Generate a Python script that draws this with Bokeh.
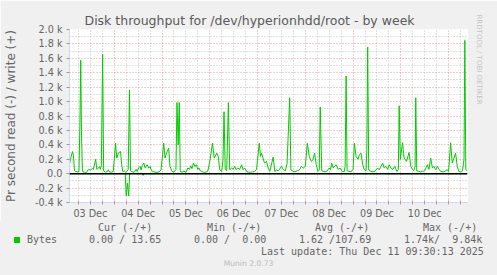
import numpy as np
from bokeh.plotting import figure
from bokeh.layouts import column
from bokeh.models import (Range1d, FixedTicker, Grid, Span, Title, Div)
from bokeh.embed import file_html
from bokeh.resources import INLINE

# ---------------- data ----------------
# sample index = 30-minute step since start of the graph (Dec 3 01:30)
write_idx = [0, 1, 1.5, 3, 4, 5, 6, 8, 9.5, 10.5, 11.3, 12, 13, 15, 17, 19, 21, 23, 24, 26.3,
             27.5, 29, 30, 31, 32, 33.3, 34.3, 36, 38, 39, 40, 42, 44, 46.3, 47.5, 49, 51.3, 52.5,
             53.5, 55, 56.5, 57.5, 59, 60.3, 61.3, 63, 65, 67, 68, 69.5, 71, 72, 73, 74.7, 76, 78,
             79.7, 81, 82.5, 84, 86, 88, 90, 92, 94.7, 96, 97.5, 99.7, 101, 103, 105, 107, 108,
             109.2, 110.3, 111.3, 113, 115, 117, 119, 120.5, 122, 123, 124.7, 126, 127.5, 129, 130,
             131.5, 133, 135, 137, 139, 141.3, 143.7, 145.5, 148, 149.5, 151, 153, 154.3, 155.3,
             156.5, 158, 159.7, 161, 163, 164.5, 166, 167.5, 169, 171, 173, 174.5, 176, 178, 180,
             182, 184, 186, 188, 190.7, 192, 193, 194.5, 196, 198, 199.7, 201.3, 204.7, 206.3, 208,
             210, 213, 215, 217, 218.7, 219.7, 221.3, 222.5, 224.7, 226.5, 229, 231.3, 233, 235,
             237, 239, 241, 243, 244.7, 246.3, 248, 249.7, 251, 252, 253.5, 255, 257, 259, 261,
             262.3, 263.5, 265, 266.3, 268, 270, 272, 274, 276, 277, 278, 279, 281, 283, 285,
             286.3, 288, 290, 291.3, 293, 294.7, 296.3, 298, 298.8, 299.7, 300.7, 303, 305, 307,
             309.7, 311.3, 313, 314.7, 316.3, 318, 319.7, 321.3, 323, 325, 327, 329, 330.5, 331.3,
             332.5, 334.7, 336.3, 338.7, 341.3, 343, 344.7, 346, 347.3, 348, 349, 351, 353, 355,
             357, 359.7, 361.3, 363, 364.7, 366.3, 368, 369.7, 371.3, 373, 376, 378, 379.7, 381,
             383, 384.7, 386, 388, 389.7, 391.3, 393, 395, 396.5, 397.3, 398.3, 400]
write_bps = [130, 200, 230, 307, 250, 40, 30, 25, 30, 700, 1574, 600, 30, 20, 15, 60, 50, 70, 60, 200,
             60, 75, 100, 60, 110, 1657, 40, 20, 30, 55, 25, 20, 30, 422, 216, 285, 307, 124,
             30, 40, 20, 30, 60, 1162, 40, 25, 20, 60, 30, 80, 101, 50, 110, 147, 80, 124,
             78, 100, 40, 30, 20, 18, 25, 50, 422, 216, 285, 353, 101, 32, 20, 60, 987,
             400, 987, 30, 20, 35, 18, 80, 60, 110, 70, 147, 100, 124, 60, 80,
             40, 30, 18, 20, 35, 193, 422, 216, 285, 239, 55, 30, 200, 859,
             60, 40, 987, 55, 78, 60, 101, 55, 78, 60, 124, 55, 80, 30, 20,
             18, 25, 30, 60, 422, 240, 285, 216, 147, 170, 78, 32, 230, 32, 50,
             40, 101, 55, 40, 147, 500, 1052, 55, 32, 25, 40, 55, 101, 78,
             101, 422, 239, 170, 193, 285, 124, 32, 50, 924, 40, 32, 25, 40, 78,
             55, 147, 78, 101, 124, 60, 78, 32, 25, 100, 1354, 40, 32, 25, 60,
             422, 239, 200, 262, 285, 124, 55, 40, 300, 1757, 50, 32, 25, 35,
             78, 55, 101, 147, 78, 101, 60, 124, 78, 60, 101, 32, 60, 942,
             200, 431, 216, 170, 294, 101, 55, 40, 100, 1052, 40, 32, 25, 32,
             40, 124, 60, 216, 78, 101, 55, 101, 60, 32, 25, 40, 55, 30,
             431, 147, 200, 285, 101, 32, 25, 40, 200, 1849, 55, 40]

read_idx = [0, 56, 57, 58.3, 59.5, 60.5, 73, 74, 75, 400]
read_bps = [0, 0, 310, 130, 310, 0, 0, 25, 0, 0]

y_ticks = [-400, -200, 0, 200, 400, 600, 800, 1000, 1200, 1400, 1600, 1800, 2000]
y_tick_labels = ["-0.4 k", "-0.2 k", "0.0", "0.2 k", "0.4 k", "0.6 k", "0.8 k", "1.0 k",
                 "1.2 k", "1.4 k", "1.6 k", "1.8 k", "2.0 k"]
x_label_hours = [12, 36, 60, 84, 108, 132, 156, 180]
x_tick_labels = ["03 Dec", "04 Dec", "05 Dec", "06 Dec", "07 Dec", "08 Dec", "09 Dec", "10 Dec"]

title_text = "Disk throughput for /dev/hyperionhdd/root - by week"
ylabel_text = "Pr second read (-) / write (+)"
legend_headers = ["Cur (-/+)", "Min (-/+)", "Avg (-/+)", "Max (-/+)"]
legend_values = ["0.00 / 13.65", "0.00 /  0.00", "1.62 /107.69", "1.74k/  9.84k"]
series_name = "Bytes"
last_update = "Last update: Thu Dec 11 09:30:13 2025"
footer = "Munin 2.0.73"
watermark = "RRDTOOL / TOBI OETIKER"

# ---------------- geometry ----------------
T0 = 1.5              # hours after Dec 3 00:00 at the left edge
STEP = 0.5            # hours per sample
t_write = T0 + np.array(write_idx) * STEP
t_read = T0 + np.array(read_idx) * STEP

W, H = 497, 275
MAIN_H = 221
L, R, TOP = 67, 30, 29
BOT = MAIN_H - TOP - 174
XMIN, XMAX = 1.5, 201.5
YMIN, YMAX = -400, 2000

FONT = "DejaVu Sans"
MONO = "DejaVu Sans Mono"
FC = "#666666"
AX = "#CFD6F8"
BG = "#F0F0F0"
GREEN = "#00CC00"

p = figure(width=W, height=MAIN_H, x_range=Range1d(XMIN, XMAX), y_range=Range1d(YMIN, YMAX),
           output_backend="svg", toolbar_location=None,
           min_border_left=L, min_border_right=R, min_border_top=TOP, min_border_bottom=BOT)
p.background_fill_color = "white"
p.border_fill_color = BG
p.outline_line_color = None
p.xgrid.visible = False
p.ygrid.visible = False

# title
p.title.text = title_text
p.title.align = "left"
p.title.offset = 15
p.title.standoff = 3
p.title.text_font = FONT
p.title.text_font_size = "12.5px"
p.title.text_font_style = "normal"
p.title.text_color = "#5A5A5A"

# watermark on the right
p.add_layout(Title(text=watermark, align="left", offset=-15, standoff=14, text_font=FONT,
                   text_font_size="7px", text_font_style="normal", text_color="#C4C4C4"), "right")

# grids
minor_x = [h for h in range(6, 202, 6) if h % 24]
major_x = list(range(24, 200, 24))
minor_y = list(range(-300, 2000, 200))
p.add_layout(Grid(dimension=0, ticker=FixedTicker(ticks=minor_x), grid_line_color="#8C8C8C",
                  grid_line_alpha=0.5, grid_line_dash="1 2"))
p.add_layout(Grid(dimension=1, ticker=FixedTicker(ticks=minor_y), grid_line_color="#8C8C8C",
                  grid_line_alpha=0.5, grid_line_dash="1 2"))
p.add_layout(Grid(dimension=0, ticker=FixedTicker(ticks=major_x), grid_line_color="#E03030",
                  grid_line_alpha=0.5, grid_line_dash="1 2"))
p.add_layout(Grid(dimension=1, ticker=FixedTicker(ticks=y_ticks), grid_line_color="#E03030",
                  grid_line_alpha=0.5, grid_line_dash="1 2"))

# axes
yax = p.yaxis[0]
yax.ticker = FixedTicker(ticks=y_ticks)
yax.major_label_overrides = {v: s for v, s in zip(y_ticks, y_tick_labels)}
yax.axis_line_color = AX
yax.major_tick_line_color = "#999999"
yax.major_tick_out = 3
yax.major_tick_in = 0
yax.minor_tick_line_color = None
yax.major_label_standoff = 4
yax.major_label_text_font = FONT
yax.major_label_text_font_size = "9.7px"
yax.major_label_text_color = FC
yax.axis_label = ylabel_text
yax.axis_label_text_font = FONT
yax.axis_label_text_font_size = "12px"
yax.axis_label_text_font_style = "normal"
yax.axis_label_text_color = FC
yax.axis_label_standoff = 14

xax = p.xaxis[0]
xax.ticker = FixedTicker(ticks=x_label_hours, minor_ticks=minor_x + major_x)
xax.major_label_overrides = {v: s for v, s in zip(x_label_hours, x_tick_labels)}
xax.axis_line_color = AX
xax.major_tick_line_color = None
xax.major_tick_out = 0
xax.major_tick_in = 0
xax.minor_tick_line_color = "#D09090"
xax.minor_tick_out = 2
xax.minor_tick_in = 2
xax.major_label_standoff = 3
xax.major_label_text_font = FONT
xax.major_label_text_font_size = "9.6px"
xax.major_label_text_color = FC

# series
p.line(t_read, -np.array(read_bps), line_color=GREEN, line_width=1)
p.line(t_write, write_bps, line_color=GREEN, line_width=1)
p.add_layout(Span(location=0, dimension="width", line_color="black", line_width=1.5))

# ---------------- legend strip (HTML, page pixel positions) ----------------
STRIP_H = H - MAIN_H


def span(text, left, center_y, size=10, font=MONO, color=FC, extra=""):
    top = center_y - MAIN_H - 6
    return (f'<span style="position:absolute;left:{left}px;top:{top}px;white-space:pre;'
            f'line-height:12px;font-family:\'{font}\';font-size:{size}px;color:{color};{extra}">'
            f'{text}</span>')


parts = []
for txt, x0 in zip(legend_headers, [98, 207, 315, 423]):
    parts.append(span(txt, x0, 227.5))
parts.append(f'<span style="position:absolute;left:14px;top:{236.5 - MAIN_H}px;width:6px;'
             f'height:6px;background:{GREEN};"></span>')
parts.append(span(series_name, 27, 239.5))
for txt, x0 in zip(legend_values, [89, 194, 299, 404]):
    parts.append(span(txt, x0, 239.5))
parts.append(span(last_update, 261, 251.5))
parts.append(span(footer, 0, 264, size=7.6, font=FONT, color="#BBBBBB",
                  extra=f"width:{W}px;text-align:center;"))

html = (f'<div style="position:relative;width:{W}px;height:{STRIP_H}px;background:{BG};'
        f'margin:0;padding:0;overflow:hidden;">' + "".join(parts) + '</div>')
strip = Div(text=html, width=W, height=STRIP_H, margin=0, styles={"background-color": BG})

layout = column(p, strip, spacing=0)
open("out.html", "w").write(file_html(layout, INLINE))
